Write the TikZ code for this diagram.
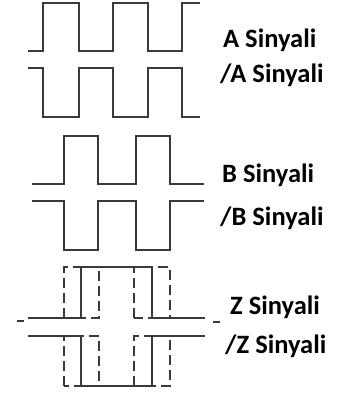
\documentclass[tikz,border=0pt]{standalone}
\usepackage{fontspec}
\newfontfamily\lab{Carlito}
\definecolor{wave}{HTML}{3A3A3A}
\tikzset{
  wv/.style={draw=wave, line width=1.4pt, line join=miter},
  alt/.style={draw=wave, line width=1.4pt, dash pattern=on 10pt off 5pt},
  lbl/.style={anchor=base west, inner sep=0pt, font=\lab\bfseries\fontsize{26.5}{28}\selectfont, text=black}
}
\begin{document}
\begin{tikzpicture}[x=1pt,y=-1pt]
\useasboundingbox (0,0) rectangle (354,394);
% A
\draw[wv] (28,51)--(43,51)--(43,3)--(79,3)--(79,51)--(113,51)--(113,3)--(148,3)--(148,51)--(182,51)--(182,3)--(200,3);
\draw[wv] (28,68)--(43,68)--(43,117)--(79,117)--(79,68)--(113,68)--(113,117)--(148,117)--(148,68)--(182,68)--(182,117)--(200,117);
% B
\draw[wv] (32,184)--(64,184)--(64,136)--(98,136)--(98,184)--(136,184)--(136,136)--(170,136)--(170,184)--(204,184);
\draw[wv] (32,201)--(64,201)--(64,250)--(98,250)--(98,201)--(136,201)--(136,250)--(170,250)--(170,201)--(204,201);
% Z
\draw[alt] (64,318)--(64,267)--(99,267)--(99,318)--cycle;
\draw[alt] (134,318)--(134,267)--(170,267)--(170,318)--cycle;
\draw[wv] (28,318)--(81,318)--(81,267)--(152,267)--(152,318)--(205,318);
\draw[alt] (64,386)--(64,336)--(99,336)--(99,386)--cycle;
\draw[alt] (134,386)--(134,336)--(170,336)--(170,386)--cycle;
\draw[wv] (28,336)--(81,336)--(81,386)--(152,386)--(152,336)--(205,336);
\draw[wave, line width=1.4pt] (17,321)--(24,321);
\draw[wave, line width=1.4pt] (213,322)--(220,322);
% labels
\node[lbl] (la) at (223,47) {A Sinyali};
\node[lbl] (lna) at (220,82) {/A Sinyali};
\node[lbl] (lb) at (222,182) {B Sinyali};
\node[lbl] (lnb) at (220,225) {/B Sinyali};
\node[lbl] (lz) at (230,314) {Z Sinyali};
\node[lbl] (lnz) at (225,353) {/Z Sinyali};
\end{tikzpicture}
\end{document}
